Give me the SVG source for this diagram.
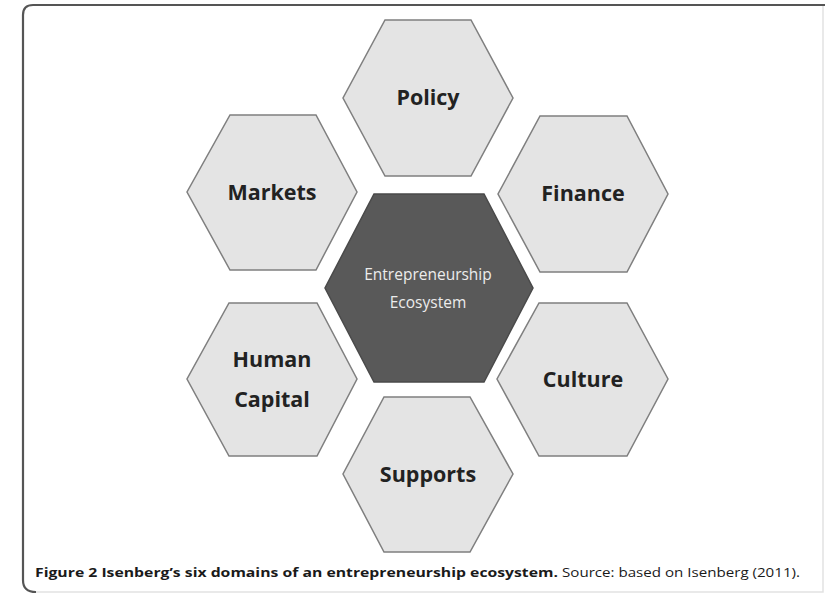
<svg xmlns="http://www.w3.org/2000/svg" width="825" height="595" viewBox="0 0 825 595">
<style>
.hex{fill:#e4e4e4;stroke:#7f7f7f;stroke-width:1.5}
.core{fill:#595959;stroke:#4a4a4a;stroke-width:1.5}
.lbl{font-family:"Open Sans","Noto Sans",sans-serif;font-weight:bold;font-size:21.5px;fill:#222222;text-anchor:middle}
.clbl{font-family:"Open Sans","Noto Sans",sans-serif;font-size:15.5px;fill:#ececec;text-anchor:middle}
.cap{font-family:"Open Sans","Noto Sans",sans-serif;font-size:13px;fill:#1a1a1a}
</style>
<rect x="0" y="0" width="825" height="595" fill="#ffffff"/>
<g id="frame">
<path d="M33,592 L823,592 L823,5" fill="none" stroke="#e2e2e2" stroke-width="1.5"/>
<path d="M36,592 Q23,592 23,580 L23,15 Q23,5 33,5 L825,5" fill="none" stroke="#555555" stroke-width="2.2"/>
</g>
<g id="connectors"></g>
<g id="policy">
<polygon class="hex" points="385,20 471,20 513,98 471,176 385,176 343,98"/>
<text class="lbl" x="428" y="105">Policy</text>
</g>
<g id="markets">
<polygon class="hex" points="230,115 316,115 357,192 316,270 230,270 187,192"/>
<text class="lbl" x="272" y="200">Markets</text>
</g>
<g id="finance">
<polygon class="hex" points="540,116 627,116 668,194 627,272 540,272 498,194"/>
<text class="lbl" x="583" y="201">Finance</text>
</g>
<g id="culture">
<polygon class="hex" points="539,303 627,303 668,379 627,456 539,456 497,379"/>
<text class="lbl" x="583" y="387">Culture</text>
</g>
<g id="human-capital">
<polygon class="hex" points="229,303 317,303 357,379 317,456 229,456 187,379"/>
<text class="lbl" x="272" y="367">Human</text>
<text class="lbl" x="272" y="407">Capital</text>
</g>
<g id="supports">
<polygon class="hex" points="384,397 470,397 513,474 470,552 384,552 343,474"/>
<text class="lbl" x="428" y="482">Supports</text>
</g>
<g id="ecosystem">
<polygon class="core" points="374,194 484,194 533,288 484,382 374,382 325,288"/>
<text class="clbl" x="428" y="280">Entrepreneurship</text>
<text class="clbl" x="428" y="308">Ecosystem</text>
</g>
<g id="caption">
<text class="cap" x="35" y="577" font-weight="bold" textLength="523" lengthAdjust="spacingAndGlyphs">Figure 2 Isenberg’s six domains of an entrepreneurship ecosystem.</text>
<text class="cap" x="562" y="577" textLength="238" lengthAdjust="spacingAndGlyphs">Source: based on Isenberg (2011).</text>
</g>
</svg>
